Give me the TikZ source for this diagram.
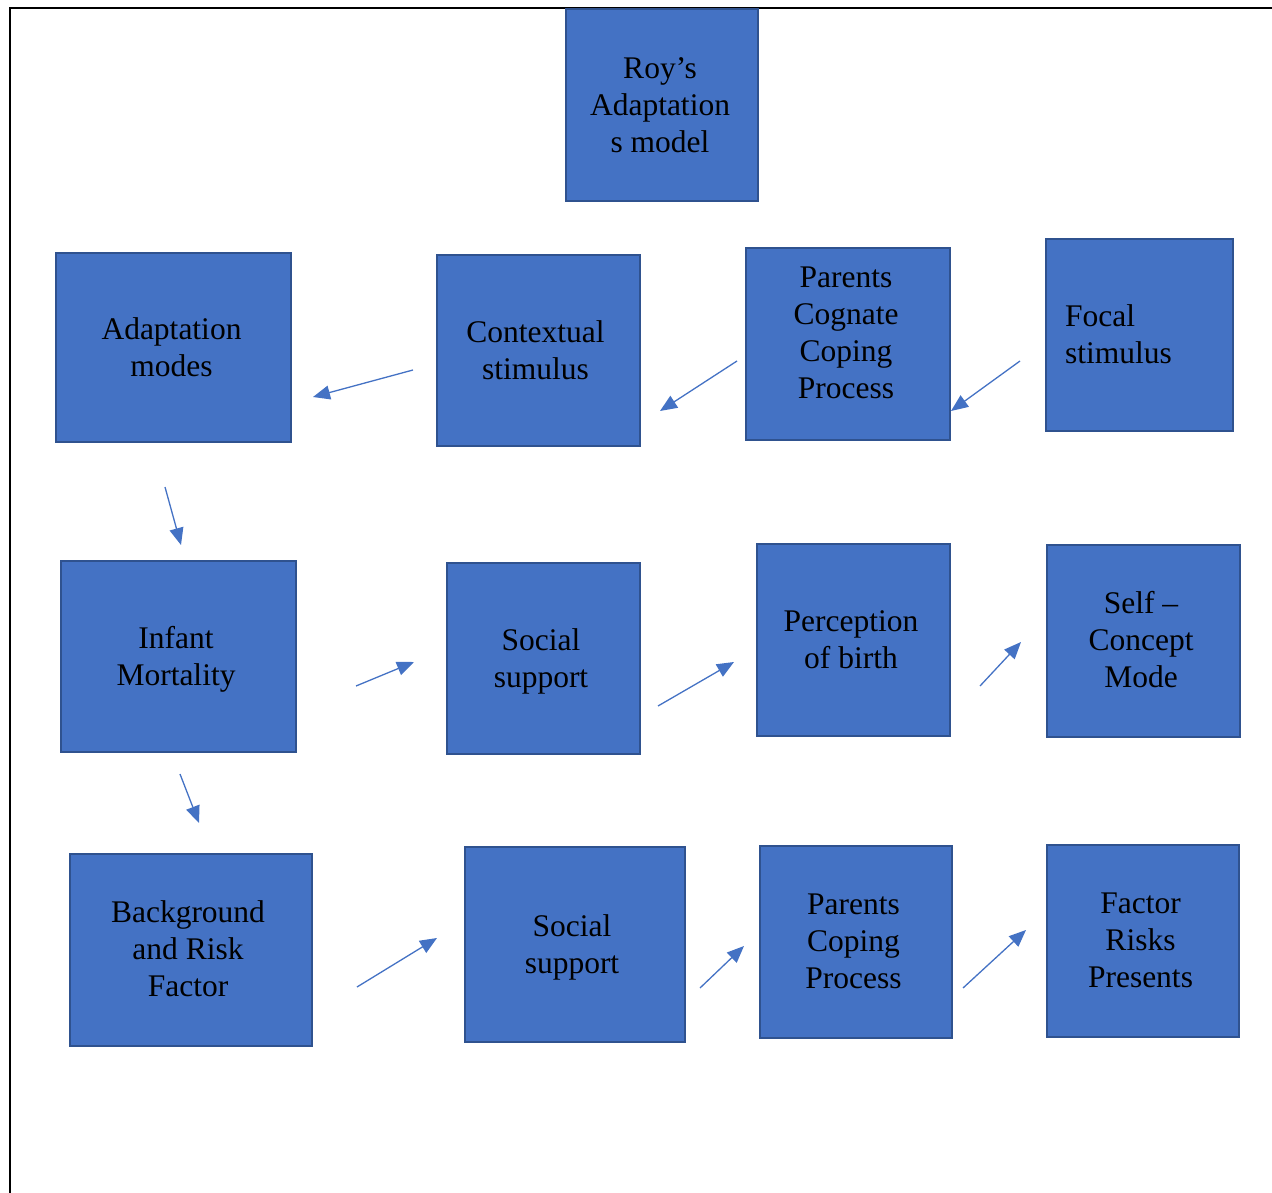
\documentclass[tikz,border=0pt]{standalone}
\usepackage{fontspec}
\setmainfont{Liberation Serif}
\usetikzlibrary{arrows.meta,calc}
\definecolor{boxfill}{HTML}{4472C4}
\definecolor{boxline}{HTML}{2F528F}
\definecolor{arrowcol}{HTML}{4472C4}
\tikzset{
  box/.style={draw=boxline, line width=2pt, fill=boxfill, rectangle, inner sep=0pt},
  txt/.style={inner sep=0pt, font=\fontsize{31.5}{37}\selectfont, text=black, align=center},
  conn/.style={draw=arrowcol, line width=1.3pt, -{Triangle[length=17pt,width=14pt]}},
}
% name, x1, y1, x2, y2, dx, dy, text
\newcommand{\mkbox}[8]{%
  \node[box, minimum width={(#4)-(#2)}, minimum height={(#5)-(#3)},
    label={[txt, xshift=#6, yshift=#7]center:{#8}}]
    (#1) at ({((#2)+(#4))/2},{((#3)+(#5))/2}) {};}
\begin{document}
\begin{tikzpicture}[x=1pt,y=-1pt]
\useasboundingbox (0,0) rectangle (1272,1193);
% page border
\coordinate (bR) at (1272,8);
\coordinate (bTL) at (10,8);
\coordinate (bB) at (10,1193);
\draw[line width=1.6pt] (bR) -- (bTL) -- (bB);

% boxes
\mkbox{roy}{566}{9}{758}{201}{-2pt}{0pt}{Roy’s\\Adaptation\\s model}
\mkbox{adm}{56}{253}{291}{442}{-2pt}{0pt}{Adaptation\\modes}
\mkbox{ctx}{437}{255}{640}{446}{-3pt}{0pt}{Contextual\\stimulus}
\mkbox{pcc}{746}{248}{950}{440}{-2pt}{11pt}{Parents\\Cognate\\Coping\\Process}
\mkbox{foc}{1046}{239}{1233}{431}{0pt}{0pt}{}
\node[txt, align=left, anchor=west] (foct) at (1065,334) {Focal\\stimulus};
\mkbox{inf}{61}{561}{296}{752}{-2.5pt}{-3pt}{Infant\\Mortality}
\mkbox{ss1}{447}{563}{640}{754}{-2.5pt}{-3pt}{Social\\support}
\mkbox{per}{757}{544}{950}{736}{-2.5pt}{0pt}{Perception\\of birth}
\mkbox{self}{1047}{545}{1240}{737}{-2.5pt}{1pt}{Self –\\Concept\\Mode}
\mkbox{bg}{70}{854}{312}{1046}{-3pt}{1.5pt}{Background\\and Risk\\Factor}
\mkbox{ss2}{465}{847}{685}{1042}{-3pt}{-3pt}{Social\\support}
\mkbox{pcp}{760}{846}{952}{1038}{-2.5pt}{1pt}{Parents\\Coping\\Process}
\mkbox{frp}{1047}{845}{1239}{1037}{-2.5pt}{1pt}{Factor\\Risks\\Presents}

% free-floating arrows (named end points)
\coordinate (a1s) at (413,370); \coordinate (a1e) at (313,397);
\coordinate (a2s) at (737,361); \coordinate (a2e) at (660,411);
\coordinate (a3s) at (1020,361); \coordinate (a3e) at (951,411);
\coordinate (a4s) at (165,487); \coordinate (a4e) at (181,545);
\coordinate (a5s) at (180,774); \coordinate (a5e) at (199,823);
\coordinate (a6s) at (356,686); \coordinate (a6e) at (414,662);
\coordinate (a7s) at (658,706); \coordinate (a7e) at (734,662);
\coordinate (a8s) at (980,686); \coordinate (a8e) at (1021,642);
\coordinate (a9s) at (357,987); \coordinate (a9e) at (437,938);
\coordinate (a10s) at (700,988); \coordinate (a10e) at (744,946);
\coordinate (a11s) at (963,988); \coordinate (a11e) at (1026,930);
\foreach \i in {1,...,11} {\draw[conn] (a\i s) -- (a\i e);}
\end{tikzpicture}
\end{document}
